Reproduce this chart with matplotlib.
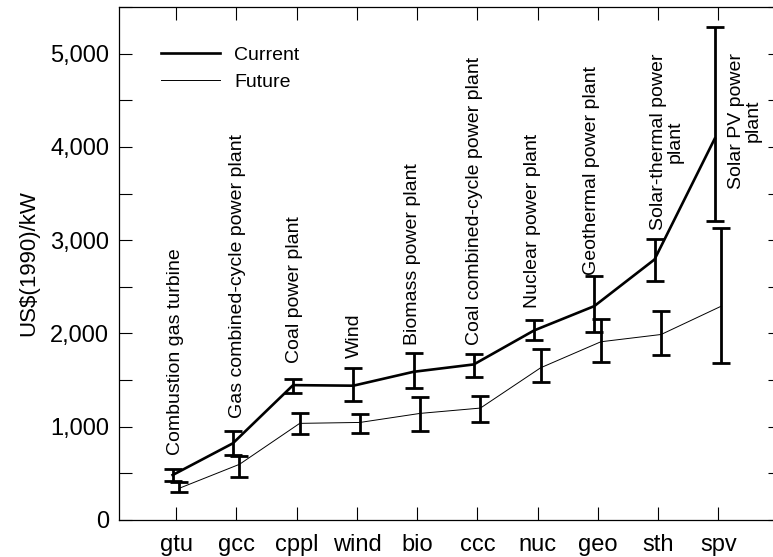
import matplotlib
matplotlib.use("Agg")
import matplotlib.pyplot as plt
from matplotlib.ticker import MultipleLocator, FuncFormatter
from matplotlib.lines import Line2D

plt.rcParams['font.family'] = ['Liberation Sans', 'DejaVu Sans']

categories = ["gtu", "gcc", "cppl", "wind", "bio", "ccc", "nuc", "geo", "sth", "spv"]
full_names = ["Combustion gas turbine", "Gas combined-cycle power plant", "Coal power plant",
              "Wind", "Biomass power plant", "Coal combined-cycle power plant",
              "Nuclear power plant", "Geothermal power plant",
              "Solar-thermal power\nplant", "Solar PV power\nplant"]

current_mid = [482, 822, 1446, 1440, 1589, 1668, 2032, 2293, 2793, 4089]
current_hi = [547, 950, 1507, 1625, 1786, 1775, 2143, 2618, 3011, 5282]
current_lo = [418, 696, 1364, 1275, 1414, 1536, 1925, 2014, 2561, 3204]

future_mid = [340, 597, 1036, 1046, 1143, 1200, 1632, 1911, 1989, 2293]
future_hi = [404, 689, 1143, 1132, 1318, 1329, 1829, 2150, 2243, 3132]
future_lo = [297, 464, 918, 932, 957, 1050, 1475, 1693, 1771, 1679]

# annotation anchors (x in category units, y = bottom of rotated label)
label_x = [0.98, 2.02, 2.97, 3.96, 4.93, 5.96, 6.92, 7.89, 9.15, 10.44]
label_y = [696, 1090, 1679, 1732, 1875, 1875, 2270, 2625, 3107, 3553]

W, H = 773, 557
fig = plt.figure(figsize=(W / 100, H / 100), dpi=100)
ax = fig.add_axes([119 / W, (H - 520) / H, (781 - 119) / W, (520 - 7) / H])

x = list(range(1, len(categories) + 1))
xc = [v - 0.06 for v in x]
xf = [v + 0.05 for v in x]

c_err = [[m - l for m, l in zip(current_mid, current_lo)],
         [h - m for m, h in zip(current_mid, current_hi)]]
f_err = [[m - l for m, l in zip(future_mid, future_lo)],
         [h - m for m, h in zip(future_mid, future_hi)]]

ax.errorbar(xc, current_mid, yerr=c_err, color='black', lw=1.9, elinewidth=2.0,
            capsize=6.5, capthick=2.0, label='Current')
ax.errorbar(xf, future_mid, yerr=f_err, color='black', lw=0.7, elinewidth=2.0,
            capsize=6.5, capthick=2.0, label='Future')

for lx, ly, name in zip(label_x, label_y, full_names):
    ax.text(lx, ly, name, rotation=90, ha='center', va='bottom',
            multialignment='center', fontsize=14, linespacing=1.0)

ax.set_xlim(0.05, 11.04)
ax.set_ylim(0, 5500)
ax.set_xticks(x)
ax.set_xticklabels(categories)
ax.yaxis.set_major_locator(MultipleLocator(1000))
ax.yaxis.set_minor_locator(MultipleLocator(500))
ax.yaxis.set_major_formatter(FuncFormatter(lambda v, p: f"{int(v):,}"))
ax.tick_params(axis='both', which='major', direction='in', length=9.5, width=0.8,
               labelsize=17, pad=7)
ax.tick_params(axis='x', pad=10)
ax.tick_params(axis='y', which='both', right=True, direction='in')
ax.tick_params(axis='y', which='minor', length=9.5, width=0.8)
ax.tick_params(axis='x', top=True)
ax.set_ylabel("US$(1990)/kW", fontsize=16, labelpad=8)
for s in ax.spines.values():
    s.set_linewidth(0.9)

hl = [Line2D([], [], color='black', lw=1.9), Line2D([], [], color='black', lw=0.7)]
ax.legend(hl, ['Current', 'Future'], loc='upper left', bbox_to_anchor=(0.063, 0.923),
          frameon=False, fontsize=14, handlelength=3.05, handletextpad=0.72,
          borderpad=0, labelspacing=0.49, borderaxespad=0)

fig.savefig("out.png", dpi=100)
